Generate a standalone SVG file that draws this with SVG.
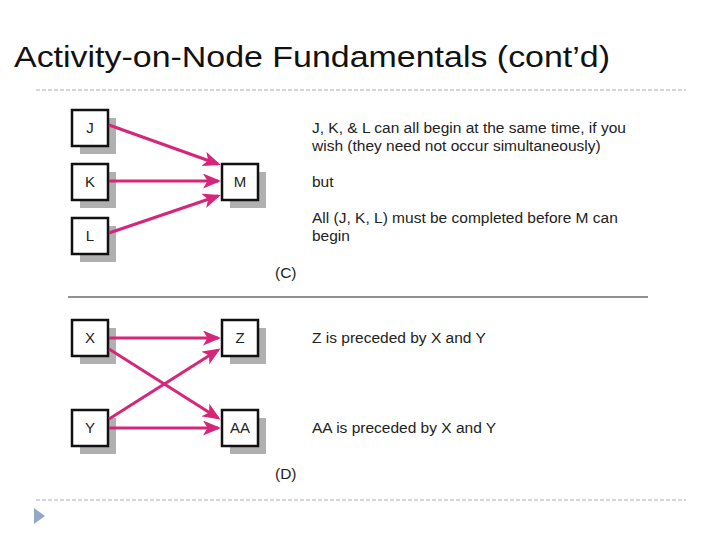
<svg xmlns="http://www.w3.org/2000/svg" width="720" height="540" viewBox="0 0 720 540">
<style>
.b{fill:#fff;stroke:#111;stroke-width:2.5}.s{fill:#b0b0b0}
.t{font-family:"Liberation Sans",Arial,sans-serif;font-size:15px;fill:#222;text-anchor:middle}
.d{font-family:"Liberation Sans",Arial,sans-serif;font-size:15.5px;fill:#222}
.c line{stroke:#d6267a;stroke-width:3;marker-end:url(#a)}
</style>
<defs><marker id="a" markerWidth="6" markerHeight="5" refX="5" refY="2.5" orient="auto" markerUnits="strokeWidth"><path d="M0,0L6,2.5L0,5L1.5,2.5z" fill="#d6267a"/></marker></defs>
<rect width="720" height="540" fill="#fff"/>
<text x="14" y="67" font-family="Liberation Sans,Arial,sans-serif" font-size="30" fill="#111" textLength="596" lengthAdjust="spacingAndGlyphs">Activity-on-Node Fundamentals (cont’d)</text>
<line x1="36" y1="90" x2="686" y2="90" stroke="#aab" stroke-dasharray="4,2"/>
<line x1="36" y1="500" x2="686" y2="500" stroke="#aab" stroke-dasharray="4,2"/>
<path d="M34,508L45,516L34,524z" fill="#93a8c4"/>
<g id="J"><rect class="s" x="80" y="118" width="36" height="36"/><rect class="b" x="72" y="110" width="36" height="36"/><text class="t" x="90" y="133">J</text></g>
<g id="K"><rect class="s" x="80" y="172" width="36" height="36"/><rect class="b" x="72" y="164" width="36" height="36"/><text class="t" x="90" y="187">K</text></g>
<g id="L"><rect class="s" x="80" y="226" width="36" height="36"/><rect class="b" x="72" y="218" width="36" height="36"/><text class="t" x="90" y="241">L</text></g>
<g id="M"><rect class="s" x="230" y="172" width="36" height="36"/><rect class="b" x="222" y="164" width="36" height="36"/><text class="t" x="240" y="187">M</text></g>
<g id="X"><rect class="s" x="80" y="328" width="36" height="36"/><rect class="b" x="72" y="320" width="36" height="36"/><text class="t" x="90" y="343">X</text></g>
<g id="Y"><rect class="s" x="80" y="418" width="36" height="36"/><rect class="b" x="72" y="410" width="36" height="36"/><text class="t" x="90" y="433">Y</text></g>
<g id="Z"><rect class="s" x="230" y="328" width="36" height="36"/><rect class="b" x="222" y="320" width="36" height="36"/><text class="t" x="240" y="343">Z</text></g>
<g id="AA"><rect class="s" x="230" y="418" width="36" height="36"/><rect class="b" x="222" y="410" width="36" height="36"/><text class="t" x="240" y="433">AA</text></g>
<g class="c">
<line x1="109" y1="125" x2="218" y2="164"/>
<line x1="109" y1="181" x2="218" y2="181"/>
<line x1="109" y1="233" x2="218" y2="196"/>
<line x1="109" y1="338" x2="218" y2="338"/>
<line x1="109" y1="349" x2="218" y2="418"/>
<line x1="109" y1="419" x2="218" y2="350"/>
<line x1="109" y1="428" x2="218" y2="428"/>
</g>
<text class="d" x="312" y="133">J, K, &amp; L can all begin at the same time, if you</text>
<text class="d" x="312" y="151">wish (they need not occur simultaneously)</text>
<text class="d" x="312" y="187">but</text>
<text class="d" x="312" y="223">All (J, K, L) must be completed before M can</text>
<text class="d" x="312" y="241">begin</text>
<text class="d" x="275" y="278">(C)</text>
<line x1="68" y1="297" x2="648" y2="297" stroke="#222"/>
<text class="d" x="312" y="343">Z is preceded by X and Y</text>
<text class="d" x="312" y="433">AA is preceded by X and Y</text>
<text class="d" x="275" y="479">(D)</text>
</svg>
